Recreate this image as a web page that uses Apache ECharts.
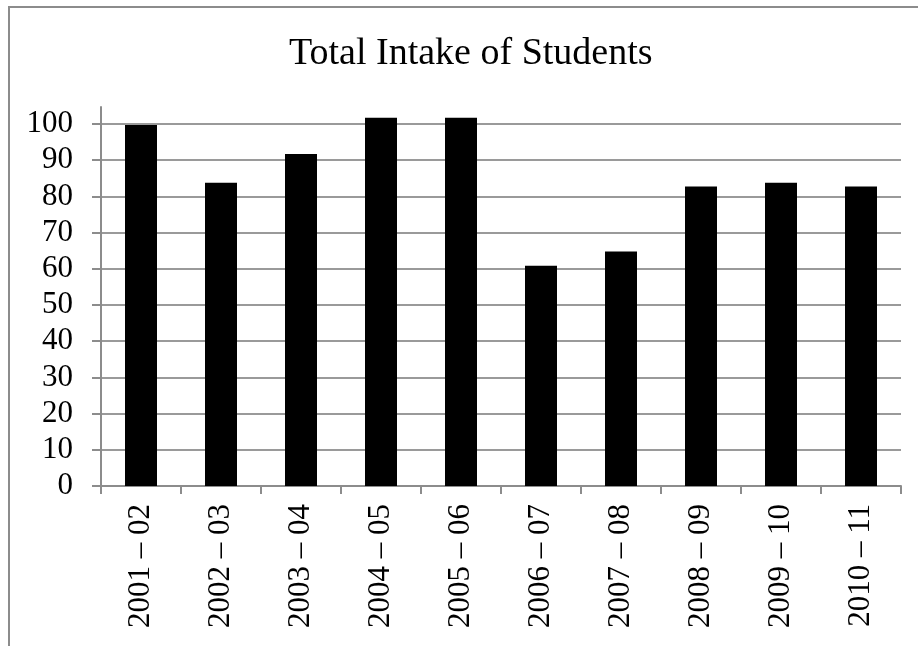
<!DOCTYPE html>
<html>
<head>
<meta charset="utf-8">
<script src="https://cdn.jsdelivr.net/npm/echarts@6/dist/echarts.min.js"></script>
<style>
	html, body { margin: 0; padding: 0; background: #fff; }
	#chart { width: 918px; height: 646px; }
</style>
</head>
<body>
<div id="chart"></div>
<script>
"use strict";

// data
var years = ["2001 – 02","2002 – 03","2003 – 04","2004 – 05","2005 – 06",
	"2006 – 07","2007 – 08","2008 – 09","2009 – 10","2010 – 11"];
var intake = [100, 84, 92, 102, 102, 61, 65, 83, 84, 83];
var yTicks = [0, 10, 20, 30, 40, 50, 60, 70, 80, 90, 100];

var serif = "'Liberation Serif', 'Times New Roman', serif";
var gray = "#8c8c8c";

var chart = echarts.init(document.getElementById("chart"));

var option = {
	animation: false,
	backgroundColor: "#fff",
	title: {
		text: "Total Intake of Students",
		left: 284,
		top: 30,
		textStyle: { fontFamily: serif, fontSize: 38, fontWeight: "normal", color: "#000" }
	},
	graphic: [{
		// outer chart frame, cut off at the right and bottom
		type: "rect",
		shape: { x: 9, y: 7, width: 1000, height: 1000 },
		style: { fill: null, stroke: gray, lineWidth: 2 },
		silent: true
	}],
	grid: [
		// bars, axis runs a bit above 100
		{ left: 101, right: 17, top: 107, bottom: 160 },
		// labels and gridlines 0..100
		{ left: 101, right: 17, top: 124, bottom: 160 }
	],
	xAxis: [{
		type: "category",
		gridIndex: 0,
		data: years,
		axisLine: { lineStyle: { color: gray, width: 2 } },
		axisTick: { show: true, length: 8, alignWithLabel: false, lineStyle: { color: gray, width: 2 } },
		axisLabel: {
			rotate: 90,
			margin: 18,
			fontFamily: serif,
			fontSize: 31,
			color: "#000"
		}
	}, {
		type: "category",
		gridIndex: 1,
		data: years,
		show: false
	}],
	yAxis: [{
		type: "value",
		gridIndex: 0,
		min: 0,
		max: 105,
		axisLine: { show: true, lineStyle: { color: gray, width: 2 } },
		axisTick: { show: false },
		axisLabel: { show: false },
		splitLine: { show: false }
	}, {
		type: "value",
		gridIndex: 1,
		min: yTicks[0],
		max: yTicks[yTicks.length - 1],
		interval: 10,
		axisLine: { show: false },
		axisTick: { show: true, length: 9, lineStyle: { color: gray, width: 2 } },
		axisLabel: {
			margin: 28,
			fontFamily: serif,
			fontSize: 31,
			color: "#000"
		},
		splitLine: { show: true, lineStyle: { color: "#9a9a9a", width: 2 } }
	}],
	series: [{
		type: "bar",
		xAxisIndex: 0,
		yAxisIndex: 0,
		data: intake,
		barWidth: "40%",
		itemStyle: { color: "#000" },
		z: 5
	}]
};

chart.setOption(option);
</script>
</body>
</html>
